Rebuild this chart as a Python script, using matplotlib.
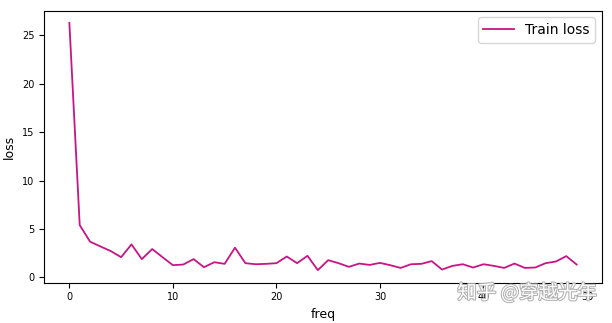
import matplotlib
matplotlib.use("Agg")
import matplotlib.pyplot as plt
import matplotlib.patheffects as pe

# loss per step
freq = list(range(50))
train_loss = [
    26.3, 5.4, 3.68, 3.19, 2.71, 2.08, 3.40, 1.88, 2.92, 2.08,
    1.25, 1.32, 1.88, 1.04, 1.56, 1.39, 3.06, 1.46, 1.35, 1.39,
    1.46, 2.15, 1.46, 2.22, 0.74, 1.77, 1.46, 1.08, 1.42, 1.28,
    1.49, 1.25, 0.97, 1.35, 1.39, 1.67, 0.80, 1.18, 1.35, 1.01,
    1.35, 1.18, 0.97, 1.42, 0.97, 1.01, 1.46, 1.63, 2.19, 1.32,
]
watermark = "知乎 @穿越光年"

fig = plt.figure(figsize=(6.12, 3.23), dpi=100)
ax = fig.add_axes([44 / 612, 1 - 282.5 / 323, 558 / 612, 272 / 323])

ax.plot(freq, train_loss, color="#C71585", linewidth=1.3, label="Train loss")

ax.set_xlabel("freq", fontsize=9, labelpad=4)
ax.set_ylabel("loss", fontsize=9, labelpad=4)
ax.tick_params(labelsize=7, length=3.5, width=0.8)
ax.set_xticks([0, 10, 20, 30, 40, 50])
ax.set_yticks([0, 5, 10, 15, 20, 25])
ax.legend(loc="upper right", fontsize=10, handlelength=2.2)

# zhihu watermark at the bottom right
fig.text(0.976, 0.092, watermark, ha="right", va="center", fontsize=14,
         family=["Noto Sans CJK SC", "DejaVu Sans"], color="white",
         path_effects=[pe.withStroke(linewidth=1.5, foreground="#b0b0b0")])

fig.savefig("out.png", dpi=100)
